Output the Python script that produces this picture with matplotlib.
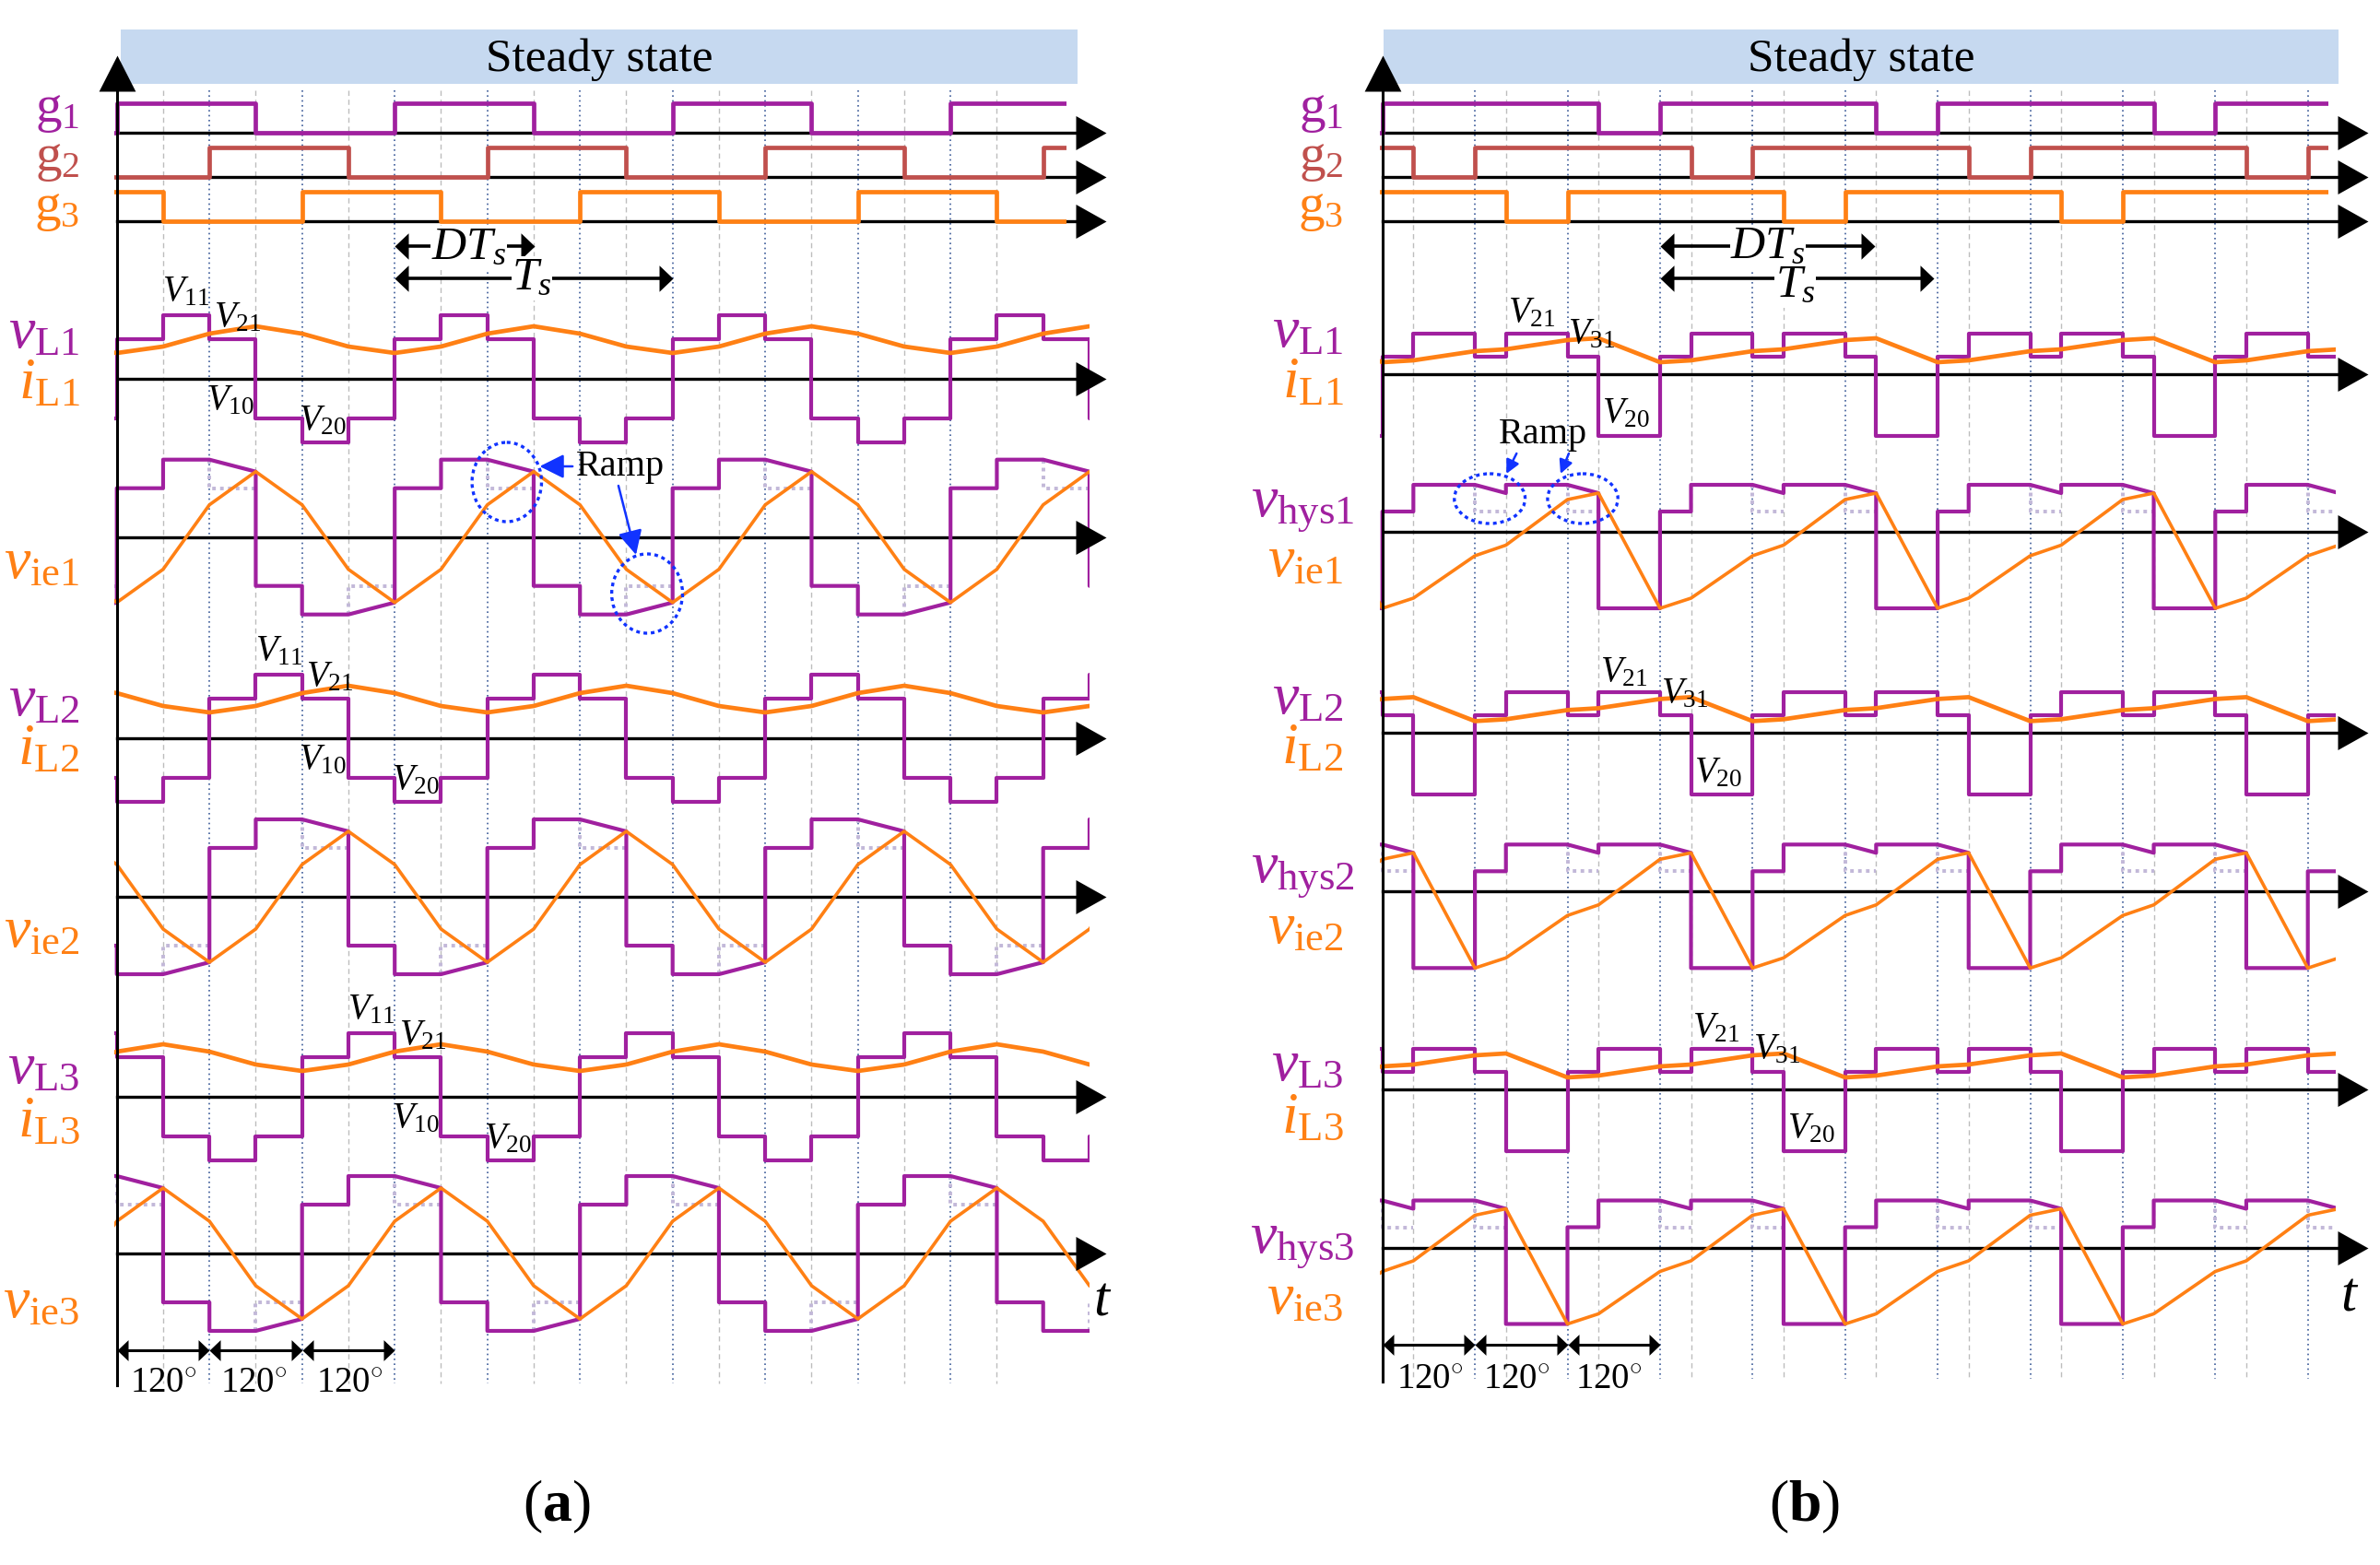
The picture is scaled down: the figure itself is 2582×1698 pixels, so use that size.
import matplotlib.pyplot as plt
import numpy as np
from matplotlib.patches import Ellipse, Rectangle

plt.rcParams['font.family'] = ['Liberation Serif', 'DejaVu Serif']
plt.rcParams['mathtext.fontset'] = 'custom'
plt.rcParams['mathtext.rm'] = 'Liberation Serif'
plt.rcParams['mathtext.it'] = 'Liberation Serif:italic'
plt.rcParams['mathtext.bf'] = 'Liberation Serif:bold'

PURPLE = '#a0209f'
ORANGE = '#ff8014'
BRICK = '#c0504d'
BANNER = '#c6d9f0'
GRID_BLUE = '#3d5c99'
GRID_GRAY = '#bdbdbd'
REF_GRAY = '#c2b8d8'
RAMP_BLUE = '#1133ff'

PERIOD = 6               # one switching period Ts = 6 steps of 60 deg
PHASE_SHIFT = [0, 2, 4]  # 120 deg between the three legs

# ---------------- data, panel (a): D = 0.5 ----------------
gate_a_t = [0, 3]
gate_a_v = [1, 0]
vL_a_t = [0, 1, 2, 3, 4, 5]
vL_a_v = [43, 69, 43, -43, -69, -43]
iL_a_t = [0, 1, 2, 3, 4, 5]
iL_a_v = [28, 35, 49, 57, 49, 35]
vhys_a_t = [0, 1, 1, 2, 3, 3, 4, 4, 5, 6]
vhys_a_v = [53, 53, 84, 84, 71, -53, -53, -84, -84, -71]
vie_a_t = [0, 1, 2, 3, 4, 5]
vie_a_v = [-71, -35, 35, 71, 35, -35]
ref_a_t = [2, 2, 3, np.nan, 5, 5, 6, np.nan]
ref_a_v = [84, 53, 53, np.nan, -84, -53, -53, np.nan]
rise_a = [2, 4, 6, 8, 10, 12, 14, 16, 18]
fall_a = [1, 3, 5, 7, 9, 11, 13, 15, 17, 19]
vlab_a = [r'$V_{11}$', r'$V_{21}$', r'$V_{10}$', r'$V_{20}$']
names_a = [r'$\mathrm{g}_{1}$', r'$\mathrm{g}_{2}$', r'$\mathrm{g}_{3}$',
           r'$v_{\mathrm{L1}}$', r'$i_{\mathrm{L1}}$', r'$v_{\mathrm{ie1}}$',
           r'$v_{\mathrm{L2}}$', r'$i_{\mathrm{L2}}$', r'$v_{\mathrm{ie2}}$',
           r'$v_{\mathrm{L3}}$', r'$i_{\mathrm{L3}}$', r'$v_{\mathrm{ie3}}$']
colors_a = [PURPLE, BRICK, ORANGE, PURPLE, ORANGE, ORANGE,
            PURPLE, ORANGE, ORANGE, PURPLE, ORANGE, ORANGE]

# ---------------- data, panel (b): D = 7/9 ----------------
gate_b_t = [0, 4.67]
gate_b_v = [1, 0]
vL_b_t = [0, 0.67, 2, 2.67, 4, 4.67]
vL_b_v = [19, 44, 19, 44, 19, -67]
iL_b_t = [0, 0.67, 2, 2.67, 4, 4.67]
iL_b_v = [13, 15, 25, 27, 37, 39]
vhys_b_t = [0, 0.67, 0.67, 2, 2.67, 2.67, 4, 4.67, 4.67, 6]
vhys_b_v = [22, 22, 51, 51, 42, 51, 51, 42, -83, -83]
vie_b_t = [0, 0.67, 2, 2.67, 4, 4.67]
vie_b_v = [-83, -72, -26, -14.5, 35, 42]
ref_b_t = [2, 2, 2.67, np.nan, 4, 4, 4.67, np.nan]
ref_b_v = [51, 22, 22, np.nan, 51, 22, 22, np.nan]
rise_b = [2, 4, 6, 8, 10, 12, 14, 16, 18, 20]
fall_b = [0.67, 2.67, 4.67, 6.67, 8.67, 10.67, 12.67, 14.67, 16.67, 18.67]
vlab_b = [r'$V_{21}$', r'$V_{31}$', r'$V_{20}$']
names_b = [r'$\mathrm{g}_{1}$', r'$\mathrm{g}_{2}$', r'$\mathrm{g}_{3}$',
           r'$v_{\mathrm{L1}}$', r'$i_{\mathrm{L1}}$', r'$v_{\mathrm{hys1}}$', r'$v_{\mathrm{ie1}}$',
           r'$v_{\mathrm{L2}}$', r'$i_{\mathrm{L2}}$', r'$v_{\mathrm{hys2}}$', r'$v_{\mathrm{ie2}}$',
           r'$v_{\mathrm{L3}}$', r'$i_{\mathrm{L3}}$', r'$v_{\mathrm{hys3}}$', r'$v_{\mathrm{ie3}}$']
colors_b = [PURPLE, BRICK, ORANGE, PURPLE, ORANGE, PURPLE, ORANGE,
            PURPLE, ORANGE, PURPLE, ORANGE, PURPLE, ORANGE, PURPLE, ORANGE]

# ---------------- layout (pixels, y grows downward) ----------------
W, H = 2582, 1698
panels = [
    dict(tag='a', left=0, width=1290, t0=126.7, step=50.25,
         gate=(gate_a_t, gate_a_v), vL=(vL_a_t, vL_a_v), iL=(iL_a_t, iL_a_v),
         vhys=(vhys_a_t, vhys_a_v), vie=(vie_a_t, vie_a_v), ref=(ref_a_t, ref_a_v),
         rise=rise_a, fall=fall_a,
         rows_g=[144, 192.3, 240], rows_vL=[411, 801, 1190], rows_vie=[582.7, 973, 1360],
         end_gate=20.5, end_wave=21.0, tip=21.36, grid_bot=1501, axis_bot=1503,
         names=names_a, colors=colors_a,
         name_y=[120, 173, 227, 362, 417, 612, 761, 814, 1012, 1160, 1218, 1414],
         name_x=[-0.8] * 12,
         vlab=vlab_a, vlab_pos=[(1.5, -94), (2.6, -66), (2.45, 24), (4.45, 46)],
         banner=(0.09, 20.74), banner_text=10.41,
         dt=(9.02, 7.6, 269), ts=(12.0, 8.96, 302),
         ell=[(8.42, 523, 1.5, 86), (11.45, 644, 1.53, 86)],
         ramp_text=(9.92, 506, 'left'), ramp_scale=20,
         ramp_arrows=[((9.84, 506), (9.13, 506)), ((10.83, 527), (11.21, 602))],
         deg_y=1465, deg_lab=[(1.0, 1501), (2.95, 1501), (5.02, 1501)],
         t_lab=(21.28, 1412), cap=(9.5, 1635)),
    dict(tag='b', left=1290, width=1292, t0=1499.7, step=50.2,
         gate=(gate_b_t, gate_b_v), vL=(vL_b_t, vL_b_v), iL=(iL_b_t, iL_b_v),
         vhys=(vhys_b_t, vhys_b_v), vie=(vie_b_t, vie_b_v), ref=(ref_b_t, ref_b_v),
         rise=rise_b, fall=fall_b,
         rows_g=[144, 192.3, 240], rows_vL=[406, 795.4, 1182], rows_vie=[577, 967.3, 1353.5],
         end_gate=20.45, end_wave=20.6, tip=21.3, grid_bot=1496, axis_bot=1499,
         names=names_b, colors=colors_b,
         name_y=[120, 173, 227, 361, 416, 550, 610, 759, 813, 947, 1008, 1157, 1214, 1349, 1410],
         name_x=[-0.84, -0.84, -0.84, -0.84, -0.84, -0.6, -0.84,
                 -0.84, -0.84, -0.6, -0.84, -0.84, -0.84, -0.6, -0.84],
         vlab=vlab_b, vlab_pos=[(3.22, -66), (4.53, -43), (5.26, 43)],
         banner=(0.03, 20.66), banner_text=10.35,
         dt=(10.64, 8.33, 268), ts=(11.92, 8.92, 310),
         ell=[(2.32, 541, 1.53, 54), (4.33, 541, 1.52, 54)],
         ramp_text=(3.47, 471, 'center'), ramp_scale=11,
         ramp_arrows=[((2.9, 492), (2.68, 514)), ((4.03, 492), (3.85, 514))],
         deg_y=1458.6, deg_lab=[(1.02, 1497), (2.9, 1497), (4.9, 1497)],
         t_lab=(20.9, 1407), cap=(9.12, 1635)),
]

HEAD_R = [(0, 0), (-1, 0.56), (-1, -0.56)]
HEAD_UP = [(0, 0), (-0.51, -1), (0.51, -1)]
SMALL_R = [(0, 0), (-1, 0.95), (-1, -0.95)]
SMALL_L = [(0, 0), (1, 0.95), (1, -0.95)]


def tiled(t, v, shift):
    tt = np.concatenate([np.asarray(t, float) + PERIOD * k + shift for k in range(-2, 5)])
    vv = np.tile(np.asarray(v, float), 7)
    return tt, vv


def trace(ax, series, shift, base, t_end, scale=1.0, **kw):
    tt, vv = tiled(series[0], series[1], shift)
    line, = ax.plot(tt, base - scale * vv, **kw)
    line.set_clip_path(Rectangle((-0.05, 0), t_end + 0.05, H, transform=ax.transData))


def head(ax, t, y, verts, size_px, z=6):
    ax.plot([t], [y], marker=verts, markersize=size_px * 0.72, color='k',
            markeredgewidth=0, linestyle='none', zorder=z)


def dbl_arrow(ax, t1, t2, y, size_px, lw=2.2):
    ax.plot([t1 + 0.1, t2 - 0.1], [y, y], color='k', lw=lw, zorder=6, solid_capstyle='butt')
    head(ax, t1, y, SMALL_L, size_px)
    head(ax, t2, y, SMALL_R, size_px)


fig = plt.figure(figsize=(W / 100, H / 100), dpi=100)

for p in panels:
    ax = fig.add_axes([p['left'] / W, 0, p['width'] / W, 1])
    ax.set_xlim((p['left'] - p['t0']) / p['step'], (p['left'] + p['width'] - p['t0']) / p['step'])
    ax.set_ylim(H, 0)
    ax.axis('off')

    # banner
    b0, b1 = p['banner']
    ax.add_patch(Rectangle((b0, 32), b1 - b0, 59, facecolor=BANNER, edgecolor='none', zorder=1))
    ax.text(p['banner_text'], 77, 'Steady state', ha='center', va='baseline', fontsize=37, zorder=2)

    # time grid: rising instants (blue dotted) and falling instants (gray dashed)
    ax.vlines(p['rise'], 98, p['grid_bot'], colors=GRID_BLUE, lw=1.2, linestyles=(0, (1, 2.2)), zorder=1)
    ax.vlines(p['fall'], 98, p['grid_bot'], colors=GRID_GRAY, lw=1.0, linestyles=(0, (4, 3)), zorder=1)

    # vertical axis
    ax.plot([0, 0], [p['axis_bot'], 90], color='k', lw=2.2, zorder=5)
    head(ax, 0, 60, HEAD_UP, 78)

    # horizontal axes
    for base in p['rows_g'] + p['rows_vL'] + p['rows_vie']:
        ax.plot([0, p['tip'] - 0.3], [base, base], color='k', lw=2.4, zorder=2)
        head(ax, p['tip'], base, HEAD_R, 66)

    gate_colors = [PURPLE, BRICK, ORANGE]
    for k, sh in enumerate(PHASE_SHIFT):
        trace(ax, p['gate'], sh, p['rows_g'][k], p['end_gate'], scale=32,
              color=gate_colors[k], lw=3.4, drawstyle='steps-post', zorder=4)
        bl = p['rows_vL'][k]
        trace(ax, p['vL'], sh, bl, p['end_wave'], color=PURPLE, lw=3.0,
              drawstyle='steps-post', zorder=3)
        trace(ax, p['iL'], sh, bl, p['end_wave'], color=ORANGE, lw=3.4, zorder=4)
        be = p['rows_vie'][k]
        trace(ax, p['ref'], sh, be, p['end_wave'], color=REF_GRAY, lw=2.8,
              linestyle=(0, (1, 1.2)), zorder=2.5)
        trace(ax, p['vhys'], sh, be, p['end_wave'], color=PURPLE, lw=3.0, zorder=3)
        trace(ax, p['vie'], sh, be, p['end_wave'], color=ORANGE, lw=2.6, zorder=4)

        for txt, (dt, dy) in zip(p['vlab'], p['vlab_pos']):
            ax.text(dt + sh, bl + dy, txt, ha='center', va='center', fontsize=28, zorder=7)

    # signal names (gate names a bit smaller so they stack without touching)
    for i, (txt, col, tx, ty) in enumerate(zip(p['names'], p['colors'], p['name_x'], p['name_y'])):
        ax.text(tx, ty, txt, color=col, ha='right', va='center', fontsize=41 if i < 3 else 46)

    # DTs / Ts
    dbl_arrow(ax, 6, p['dt'][0], 266.7, 30, lw=2.6)
    dbl_arrow(ax, 6, p['ts'][0], 301.7, 30, lw=2.6)
    ax.text(p['dt'][1], p['dt'][2], r'$DT_s$', ha='center', va='center', fontsize=37, zorder=8,
            bbox=dict(facecolor='white', edgecolor='none', pad=0.5))
    ax.text(p['ts'][1], p['ts'][2], r'$T_s$', ha='center', va='center', fontsize=37, zorder=8,
            bbox=dict(facecolor='white', edgecolor='none', pad=0.5))

    # ramp marks
    for (et, ey, ew, eh) in p['ell']:
        ax.add_patch(Ellipse((et, ey), ew, eh, fill=False, edgecolor=RAMP_BLUE, lw=2.4,
                             linestyle=(0, (1.2, 1.2)), zorder=8))
    rt, ry, rha = p['ramp_text']
    ax.text(rt, ry, 'Ramp', ha=rha, va='center', fontsize=29, zorder=8)
    for tail, tip in p['ramp_arrows']:
        ax.annotate('', xy=tip, xytext=tail, zorder=8,
                    arrowprops=dict(arrowstyle='-|>,head_length=0.8,head_width=0.4',
                                    color=RAMP_BLUE, lw=1.8, mutation_scale=p['ramp_scale'],
                                    shrinkA=0, shrinkB=0))

    # 120 deg spacing
    for t1 in [0, 2, 4]:
        dbl_arrow(ax, t1, t1 + 2, p['deg_y'], 24)
    for lx, ly in p['deg_lab']:
        ax.text(lx, ly, r'$\mathrm{120}^{\circ}$', ha='center', va='center', fontsize=28)

    ax.text(p['t_lab'][0], p['t_lab'][1], r'$t$', ha='center', va='center', fontsize=44)
    ax.text(p['cap'][0], p['cap'][1], '($\\mathbf{%s}$)' % p['tag'], ha='center', va='center',
            fontsize=46)

fig.savefig('out.png', dpi=100)
